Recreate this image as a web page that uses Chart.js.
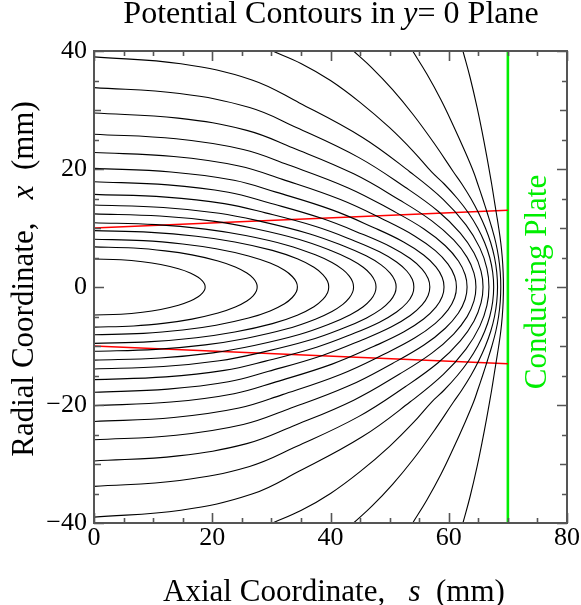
<!DOCTYPE html>
<html>
<head>
<meta charset="utf-8">
<script src="https://cdn.jsdelivr.net/npm/chart.js@4"></script>
<style>
  html, body { margin: 0; padding: 0; background: #fff; }
  canvas { display: block; }
</style>
</head>
<body>
<canvas id="chart" width="581" height="605"></canvas>
<script>
// Axis ticks (mm)
const axialTicks = [0, 20, 40, 60, 80];
const radialTicks = [-40, -20, 0, 20, 40];
const minorTickStep = 5;

// Position of the conducting plate along s (mm)
const plateS = 70;

// Beam envelope: [s, x] at the source plane and at the plate
const beamEdge = [[0, 10], [70, 13]];

// Equipotential contours, upper half (x >= 0), as [s, x] pairs in mm.
// Each runs from the left edge (or the top edge) down to the axis x = 0.
const contour01 = [[0,4.75],[4.57,4.61],[8.20,4.28],[11.28,3.80],[14.29,3.09],[16.28,2.38],[17.62,1.66],[18.33,1.05],[18.71,0.48],[18.8,0]];
const contour02 = [[0,6.8],[6.71,6.60],[12.03,6.12],[16.56,5.44],[20.98,4.42],[23.90,3.40],[25.86,2.38],[26.91,1.50],[27.46,0.68],[27.6,0]];
const contour03 = [[0,8.1],[8.36,7.86],[15.00,7.29],[20.64,6.48],[26.14,5.27],[29.79,4.05],[32.23,2.84],[33.54,1.78],[34.23,0.81],[34.4,0]];
const contour04 = [[0,9.55],[9.65,9.26],[17.31,8.60],[23.82,7.64],[30.17,6.21],[34.38,4.78],[37.20,3.34],[38.71,2.10],[39.50,0.96],[39.7,0]];
const contour05 = [[0,10.9],[10.47,10.57],[18.82,9.81],[25.64,8.72],[32.66,7.09],[37.44,5.45],[40.25,4.14],[42.09,2.94],[43.18,1.85],[43.74,0.87],[43.9,0]];
const contour06 = [[0,12.4],[11.15,12.03],[20.11,11.16],[27.09,9.92],[34.73,8.06],[40.05,6.20],[43.35,4.71],[45.53,3.35],[46.84,2.11],[47.51,0.99],[47.7,0]];
const contour07 = [[0,13.9],[11.71,13.48],[21.18,12.51],[28.21,11.12],[36.38,9.04],[42.23,6.95],[46.03,5.28],[48.56,3.75],[50.09,2.36],[50.88,1.11],[51.1,0]];
const contour08 = [[0,15.7],[12.15,15.23],[22.03,14.13],[29.00,12.56],[37.65,10.21],[43.99,7.85],[48.29,5.97],[51.18,4.24],[52.94,2.67],[53.85,1.26],[54.1,0]];
const contour09 = [[0,17.85],[12.50,17.31],[22.72,16.07],[29.54,14.28],[38.62,11.60],[45.44,8.93],[50.24,6.78],[53.49,4.82],[55.49,3.03],[56.51,1.43],[56.8,0]];
const contour10 = [[0,20.1],[13.02,19.50],[23.68,18.09],[30.78,16.08],[40.26,13.07],[47.36,10.05],[52.36,7.64],[55.75,5.43],[57.83,3.42],[58.90,1.61],[59.2,0]];
const contour11 = [[0,22.8],[13.49,22.12],[24.52,20.52],[31.88,18.24],[41.68,14.82],[49.04,11.40],[54.22,8.66],[57.73,6.16],[59.88,3.88],[60.99,1.82],[61.3,0]];
const contour12 = [[0,25.9],[13.88,25.12],[25.24,23.31],[32.81,20.72],[42.91,16.84],[50.48,12.95],[55.81,9.84],[59.42,6.99],[61.64,4.40],[62.78,2.07],[63.1,0]];
const contour13 = [[0,29.5],[14.21,28.62],[25.84,26.55],[33.59,23.60],[43.93,19.18],[51.68,14.75],[57.14,11.21],[60.83,7.97],[63.11,5.02],[64.27,2.36],[64.6,0]];
const contour14 = [[0,33.8],[14.48,32.79],[26.32,30.42],[34.22,27.04],[44.74,21.97],[52.64,16.90],[58.20,12.84],[61.96,9.13],[64.28,5.75],[65.46,2.70],[65.8,0]];
const contour15 = [[0,39],[14.70,37.83],[26.72,35.10],[34.74,31.20],[45.42,25.35],[53.44,19.50],[59.09,14.82],[62.91,10.53],[65.26,6.63],[66.46,3.12],[66.8,0]];
const contour16 = [[30.2,40],[35,37.9],[40,35.0],[45,31.3],[50,27.0],[54,23.0],[57.1,19.5],[59.19,17.5],[61.46,15],[63.37,12.5],[64.9,10],[66.08,7.5],[66.93,5],[67.43,2.5],[67.6,0]];
const contour17 = [[43.9,40],[47,37.15],[50.5,33.45],[54,29.2],[57.5,24.4],[60.8,19.5],[62.19,17.5],[63.74,15],[65.07,12.5],[66.2,10],[67.1,7.5],[67.74,5],[68.12,2.5],[68.25,0]];
const contour18 = [[53.9,40],[56.3,36.1],[58.7,31.7],[60.8,27.3],[62.6,23.3],[64.2,19.5],[64.89,17.5],[65.73,15],[66.53,12.5],[67.3,10],[67.96,7.5],[68.43,5],[68.71,2.5],[68.8,0]];
const contour19 = [[62.4,40],[63.6,35.55],[64.8,30.4],[65.8,25.5],[66.4,22.3],[66.9,19.5],[67.25,17.5],[67.65,15],[68.05,12.5],[68.45,10],[68.8,7.5],[69.05,5],[69.2,2.5],[69.25,0]];

const contours = [contour01, contour02, contour03, contour04, contour05, contour06, contour07,
  contour08, contour09, contour10, contour11, contour12, contour13, contour14, contour15,
  contour16, contour17, contour18, contour19];

// The field is symmetric about the axis: each contour continues below x = 0
// as the mirror image of its upper half.
function closedContour(half) {
  const upper = half.map(([s, x]) => ({ x: s, y: x }));
  const lower = half.slice(0, -1).reverse().map(([s, x]) => ({ x: s, y: -x }));
  return upper.concat(lower);
}

const SERIF = '"Liberation Serif", "Times New Roman", Times, serif';
const PLATE_GREEN = '#00ee00';

const datasets = contours.map(c => ({
  data: closedContour(c),
  borderColor: '#000',
  borderWidth: 1.1,
  pointRadius: 0,
  showLine: true,
  tension: 0.4,
  fill: false
}));

// Beam envelope, above and below the axis
datasets.push({
  data: beamEdge.map(([s, x]) => ({ x: s, y: x })),
  borderColor: '#ff0000', borderWidth: 1.6, pointRadius: 0, showLine: true, tension: 0
});
datasets.push({
  data: beamEdge.map(([s, x]) => ({ x: s, y: -x })),
  borderColor: '#ff0000', borderWidth: 1.6, pointRadius: 0, showLine: true, tension: 0
});

// Conducting plate
datasets.push({
  data: [{ x: plateS, y: radialTicks[0] }, { x: plateS, y: radialTicks[radialTicks.length - 1] }],
  borderColor: PLATE_GREEN, borderWidth: 2.6, pointRadius: 0, showLine: true, tension: 0
});

// Draw a line of text made of plain and italic runs, centred on (cx, baseline)
function drawRich(ctx, parts, cx, baseline, size) {
  const fonts = parts.map(p => (p.italic ? 'italic ' : '') + size + 'px ' + SERIF);
  let total = 0;
  const widths = parts.map((p, i) => { ctx.font = fonts[i]; const w = ctx.measureText(p.text).width; total += w; return w; });
  let x = cx - total / 2;
  ctx.textBaseline = 'alphabetic';
  ctx.textAlign = 'left';
  parts.forEach((p, i) => { ctx.font = fonts[i]; ctx.fillText(p.text, x, baseline); x += widths[i]; });
}

const framePlugin = {
  id: 'frameAndTicks',
  afterDatasetsDraw(chart) {
    const { ctx, chartArea: a, scales } = chart;
    const xs = scales.x, ys = scales.y;
    ctx.save();
    ctx.strokeStyle = '#555';
    ctx.lineWidth = 1.6;
    // inward tick marks on all four sides
    ctx.beginPath();
    for (let v = axialTicks[0]; v <= axialTicks[axialTicks.length - 1]; v += minorTickStep) {
      const px = Math.round(xs.getPixelForValue(v)) + 0.5;
      const len = v % 20 === 0 ? 10 : 5;
      ctx.moveTo(px, a.bottom); ctx.lineTo(px, a.bottom - len);
      ctx.moveTo(px, a.top); ctx.lineTo(px, a.top + len);
    }
    for (let v = radialTicks[0]; v <= radialTicks[radialTicks.length - 1]; v += minorTickStep) {
      const py = Math.round(ys.getPixelForValue(v)) + 0.5;
      const len = v % 20 === 0 ? 10 : (v % 10 === 0 ? 7 : 5);
      ctx.moveTo(a.left, py); ctx.lineTo(a.left + len, py);
      ctx.moveTo(a.right, py); ctx.lineTo(a.right - len, py);
    }
    ctx.stroke();
    ctx.lineWidth = 2;
    ctx.strokeRect(a.left, a.top, a.right - a.left, a.bottom - a.top);
    ctx.restore();
  },
  afterDraw(chart) {
    const { ctx } = chart;
    ctx.save();
    ctx.fillStyle = '#000';
    drawRich(ctx, [{ text: 'Potential Contours in ' }, { text: 'y', italic: true }, { text: '= 0 Plane' }], 331, 23, 32);
    drawRich(ctx, [{ text: 'Axial Coordinate,   ' }, { text: 's', italic: true }, { text: '  (mm)' }], 334, 601, 31);
    ctx.save();
    ctx.translate(33, 279);
    ctx.rotate(-Math.PI / 2);
    drawRich(ctx, [{ text: 'Radial Coordinate,   ' }, { text: 'x', italic: true }, { text: '  (mm)' }], 0, 0, 31);
    ctx.restore();
    ctx.save();
    ctx.fillStyle = PLATE_GREEN;
    ctx.translate(546, 282);
    ctx.rotate(-Math.PI / 2);
    drawRich(ctx, [{ text: 'Conducting Plate' }], 0, 0, 31);
    ctx.restore();
    ctx.restore();
  }
};

const tickFont = { family: SERIF, size: 26 };
const fmt = v => (v < 0 ? '\u2212' + Math.abs(v) : String(v));

new Chart(document.getElementById('chart'), {
  type: 'scatter',
  data: { datasets },
  options: {
    responsive: false,
    animation: false,
    events: [],
    layout: { padding: { left: 0, right: 14, top: 51, bottom: 0 } },
    scales: {
      x: {
        type: 'linear',
        min: axialTicks[0], max: axialTicks[axialTicks.length - 1],
        afterBuildTicks: s => { s.ticks = axialTicks.map(v => ({ value: v })); },
        afterFit: s => { s.height = 82; },
        grid: { display: false, drawTicks: false },
        border: { display: false },
        ticks: { font: tickFont, color: '#000', padding: 0, maxRotation: 0, autoSkip: false, callback: fmt }
      },
      y: {
        type: 'linear',
        min: radialTicks[0], max: radialTicks[radialTicks.length - 1],
        afterBuildTicks: s => { s.ticks = radialTicks.map(v => ({ value: v })); },
        afterFit: s => { s.width = 94; },
        grid: { display: false, drawTicks: false },
        border: { display: false },
        ticks: { font: tickFont, color: '#000', padding: 7, autoSkip: false, callback: fmt }
      }
    },
    plugins: { legend: { display: false }, tooltip: { enabled: false }, title: { display: false } }
  },
  plugins: [framePlugin]
});
</script>
</body>
</html>
